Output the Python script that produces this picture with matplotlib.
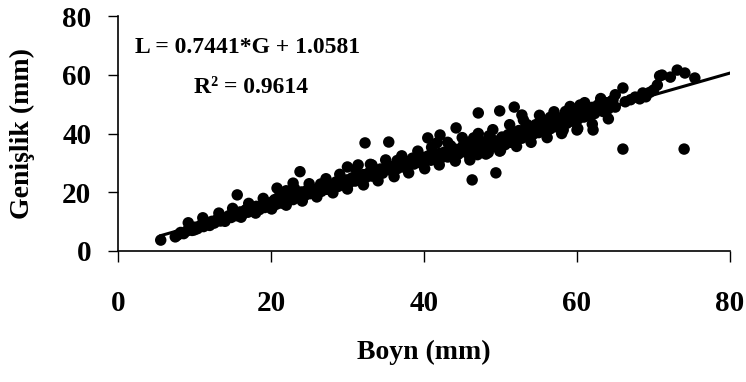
import numpy as np
import matplotlib.pyplot as plt

# Boyn (G) and Genislik (L) values
boy = [5.6, 7.5, 7.8, 8.2, 8.6, 9.0, 9.3, 9.7, 10.1, 10.4, 10.8, 11.2, 11.5, 11.9, 12.3, 12.6,
       13.0, 13.4, 13.7, 14.1, 14.5, 14.8, 15.2, 15.6, 15.5,
       16.0, 16.3, 16.7, 17.0, 17.4, 17.8, 18.1, 18.5, 18.9, 19.2, 19.6, 20.0, 20.3, 20.7, 21.1,
       21.4, 21.8, 22.2, 22.5, 22.9, 23.3, 23.8, 23.6, 24.0, 24.4, 24.7, 25.1, 20.8, 22.9, 22.0,
       25.5, 25.8, 26.2, 26.6, 26.9, 27.3, 27.7, 28.0, 28.4, 28.8, 29.1, 29.5, 29.9, 30.2, 30.6,
       31.0, 31.3, 31.7, 32.1, 32.3, 32.4, 32.8, 33.2, 33.5, 33.9, 34.3, 34.6, 35.0, 35.4,
       30.0, 31.4, 33.0,
       35.7, 36.1, 36.5, 36.8, 37.2, 37.6, 37.9, 38.3, 38.7, 39.0, 39.4, 39.8, 40.1, 40.5, 40.9,
       41.2, 41.6, 42.0, 42.1, 42.3, 42.7, 43.1, 43.4, 43.8, 44.2, 44.2, 44.5, 44.9,
       40.5, 41.7, 46.0, 46.3, 49.4, 47.1, 49.9, 51.8, 52.8,
       45.2, 45.5, 45.9, 46.3, 46.6, 47.0, 47.3, 47.7, 48.1, 48.4, 48.8, 49.2, 49.5, 49.9, 50.2,
       50.6, 51.0, 51.3, 51.7, 52.1, 52.4, 52.8, 53.2, 53.5, 53.9, 54.3, 54.6, 55.0,
       55.4, 55.7, 56.1, 56.5, 56.8, 57.2, 57.6, 57.9, 58.2, 58.3, 58.7, 59.0, 59.4, 59.8, 60.0,
       60.1, 60.4, 60.5, 60.9, 61.2, 61.6, 62.0, 62.1, 62.3, 62.7, 63.0, 63.4, 63.8, 64.1, 64.5,
       64.7, 65.0,
       66.0, 66.0, 66.3, 67.0, 67.6, 68.2, 68.6, 69.0, 69.5, 70.0, 70.5, 70.8, 71.1, 72.2, 73.1,
       74.1, 74.0, 75.4,
       # upper edge of the band
       9.2, 11.1, 13.2, 15.0, 17.1, 19.0, 21.2, 23.1, 25.0, 27.2, 29.0, 31.1, 33.2, 35.0, 37.1,
       39.2, 41.0, 43.1, 45.0, 47.1, 49.0, 51.2, 53.0, 55.1, 57.0, 59.1, 61.0, 63.1, 65.0,
       # lower edge of the band
       10.0, 12.0, 14.0, 16.1, 18.0, 20.1, 22.0, 24.1, 26.0, 28.1, 30.0, 32.1, 34.0, 36.1, 38.0,
       40.1, 42.0, 44.1, 46.0, 48.1, 50.0, 52.1, 54.0, 56.1, 58.0, 60.1, 62.0, 64.1,
       # filling the middle
       20.5, 26.5, 36.5, 46.5, 56.5, 43.5, 53.5, 58.5, 48.5, 38.5, 28.5, 61.5]
gen = [3.7, 4.8, 5.4, 6.3, 5.9, 6.8, 7.4, 7.0, 8.1, 7.6, 8.7, 8.3, 9.4, 9.0, 10.1, 9.5,
       10.8, 10.2, 11.3, 10.9, 12.0, 11.4, 12.6, 19.1, 12.0,
       13.3, 12.5, 14.0, 13.2, 14.5, 13.8, 15.2, 14.1, 15.6, 14.8, 16.3, 15.3, 16.9, 15.9, 17.4,
       16.3, 18.2, 17.0, 18.6, 17.5, 19.4, 27.0, 18.2, 20.1, 18.8, 20.6, 19.5, 21.4, 23.1, 20.5,
       20.8, 19.9, 21.4, 20.3, 21.9, 21.0, 22.6, 21.5, 23.0, 22.0, 23.6, 22.6, 24.2, 23.1, 24.9,
       23.8, 25.4, 24.4, 26.0, 36.8, 25.0, 26.6, 25.5, 27.2, 26.1, 27.9, 26.5, 28.3, 37.1,
       28.6, 29.3, 29.5,
       27.4, 29.0, 28.0, 29.8, 28.6, 30.2, 29.0, 30.8, 29.6, 31.4, 30.1, 31.9, 30.4, 32.3, 30.9,
       32.8, 31.3, 33.2, 39.5, 31.8, 33.7, 32.0, 34.2, 32.6, 41.9, 34.6, 33.0, 35.1,
       38.5, 36.8, 31.0, 24.2, 26.6, 47.0, 47.7, 49.0, 46.3,
       36.3, 33.6, 37.0, 34.2, 36.0, 32.8, 37.6, 35.0, 36.8, 33.5, 38.2, 35.6, 37.4, 34.0, 38.8,
       36.2, 39.6, 37.0, 40.3, 37.5, 41.0, 38.4, 41.6, 39.0, 42.2, 39.8, 43.0, 40.3,
       43.3, 41.0, 44.0, 41.6, 44.6, 42.3, 45.2, 43.0, 41.2, 46.0, 43.5, 46.6, 44.2, 47.3, 41.2,
       44.8, 49.7, 47.8, 45.6, 48.3, 46.0, 48.9, 41.2, 46.8, 49.6, 50.4, 47.5, 50.5, 48.4, 51.0,
       51.4, 49.0,
       55.5, 34.7, 50.8, 51.5, 52.4, 51.8, 53.8, 52.5, 54.0, 54.8, 56.5, 59.6, 59.9, 59.2, 61.6,
       60.6, 34.7, 58.9,
       9.6, 11.3, 12.9, 14.5, 16.2, 17.9, 19.6, 21.2, 22.9, 24.6, 26.1, 27.9, 29.3, 31.0, 32.4,
       34.0, 35.3, 37.0, 38.6, 40.0, 41.3, 43.0, 44.6, 46.2, 47.4, 49.2, 50.5, 51.9, 53.2,
       7.2, 8.7, 10.1, 11.5, 12.9, 14.3, 15.6, 17.0, 18.4, 19.8, 21.1, 22.5, 23.9, 25.3, 26.6,
       28.0, 29.3, 30.6, 32.0, 33.0, 34.2, 35.6, 37.0, 38.6, 40.0, 41.7, 43.2, 45.0,
       17.5, 22.8, 30.8, 38.5, 45.5, 35.8, 43.0, 47.5, 39.2, 31.6, 23.5, 48.6]

slope, intercept = 0.7441, 1.0581
fit_x = np.array([min(boy), 80])

plt.rcParams['font.family'] = ['Liberation Serif', 'DejaVu Serif']
plt.rcParams['font.weight'] = 'bold'

fig = plt.figure(figsize=(7.46, 3.82), dpi=100)
ax = fig.add_axes([0.158, 0.343, 0.8206, 0.615])

ax.scatter(boy, gen, s=68, c='black', edgecolors='none', zorder=3)
ax.plot(fit_x, slope * fit_x + intercept, color='black', lw=2.2, zorder=4)

ax.set_xlim(0, 80)
ax.set_ylim(0, 80)
ax.set_xticks([0, 20, 40, 60, 80])
ax.set_yticks([0, 20, 40, 60, 80])
for s in ['top', 'right']:
    ax.spines[s].set_visible(False)
for s in ['left', 'bottom']:
    ax.spines[s].set_linewidth(1.2)
ax.tick_params(axis='x', direction='out', length=8, width=1, pad=20, labelsize=21)
ax.tick_params(axis='y', direction='out', length=7, width=1, pad=12, labelsize=21)

ax.set_xlabel('Boyn (mm)', fontsize=20, fontweight='bold')
ax.set_ylabel('Genişlik (mm)', fontsize=20, fontweight='bold')
ax.xaxis.set_label_coords(0.5, -0.38)
ax.yaxis.set_label_coords(-0.135, 0.5)

ax.text(17.0, 69.4, 'L = 0.7441*G + 1.0581', fontsize=17, fontweight='bold',
        ha='center', va='center')
ax.text(17.4, 55.8, 'R² = 0.9614', fontsize=17, fontweight='bold',
        ha='center', va='center')

fig.savefig('out.png', dpi=100)
